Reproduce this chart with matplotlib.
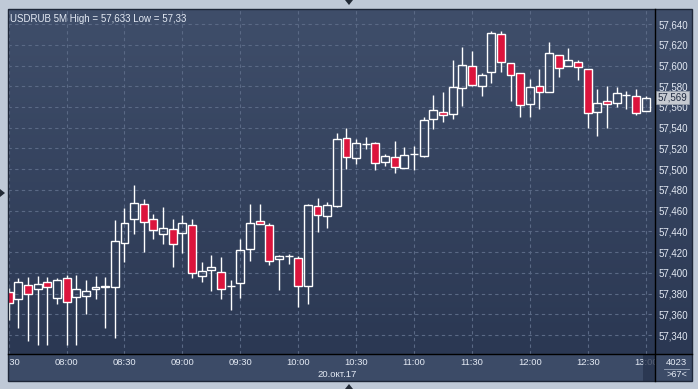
import matplotlib
matplotlib.use("Agg")
import matplotlib.pyplot as plt
import numpy as np
from matplotlib.colors import LinearSegmentedColormap
from matplotlib.lines import Line2D
from matplotlib.patches import Rectangle, Polygon

# USDRUB 5 minute candles, 20.10.2017, 07:30 .. 13:00 (67 bars)
opens = [57.3813, 57.3745, 57.3880, 57.3842, 57.3909, 57.3755, 57.3948, 57.3765, 57.3774, 57.3842,
         57.3861, 57.3867, 57.4285, 57.4517, 57.4661, 57.4517, 57.4372, 57.4420, 57.4382, 57.4459,
         57.3967, 57.4025, 57.4006, 57.3873, 57.3905, 57.4227, 57.4497, 57.4459, 57.4131, 57.4165,
         57.4141, 57.3876, 57.4642, 57.4546, 57.4642, 57.5298, 57.5105, 57.5239, 57.5250, 57.5066,
         57.5115, 57.5008, 57.5143, 57.5124, 57.5481, 57.5554, 57.5535, 57.5780, 57.5992, 57.5799,
         57.5934, 57.6301, 57.6021, 57.5925, 57.5626, 57.5799, 57.5747, 57.6098, 57.5992, 57.6031,
         57.5963, 57.5549, 57.5655, 57.5635, 57.5711, 57.5703, 57.5558]
highs = [57.3854, 57.3948, 57.3957, 57.3970, 57.3957, 57.3948, 57.3980, 57.3980, 57.3931, 57.3970,
         57.3957, 57.4507, 57.4626, 57.4847, 57.4712, 57.4565, 57.4632, 57.4520, 57.4558, 57.4520,
         57.4105, 57.4172, 57.4153, 57.3931, 57.4327, 57.4664, 57.4664, 57.4478, 57.4172, 57.4185,
         57.4160, 57.4661, 57.4719, 57.4684, 57.5349, 57.5397, 57.5288, 57.5310, 57.5259, 57.5144,
         57.5269, 57.5211, 57.5221, 57.5500, 57.5715, 57.5747, 57.6050, 57.6178, 57.6140, 57.5925,
         57.6330, 57.6330, 57.6021, 57.5925, 57.5867, 57.5963, 57.6226, 57.6098, 57.6166, 57.6050,
         57.5963, 57.5770, 57.5799, 57.5790, 57.5751, 57.5770, 57.5703]
lows = [57.3546, 57.3471, 57.3343, 57.3300, 57.3300, 57.3697, 57.3300, 57.3300, 57.3606, 57.3745,
        57.3471, 57.3375, 57.4108, 57.4378, 57.4204, 57.4330, 57.4276, 57.4060, 57.4195, 57.3953,
        57.3915, 57.3828, 57.3745, 57.3645, 57.3761, 57.4117, 57.4469, 57.4073, 57.3838, 57.4083,
        57.3674, 57.3703, 57.4397, 57.4436, 57.4632, 57.5005, 57.5047, 57.5192, 57.4995, 57.5028,
        57.4960, 57.5008, 57.4989, 57.5115, 57.5390, 57.5452, 57.5487, 57.5609, 57.5805, 57.5709,
        57.5828, 57.5937, 57.5660, 57.5506, 57.5506, 57.5583, 57.5747, 57.5892, 57.5992, 57.5857,
        57.5400, 57.5323, 57.5400, 57.5597, 57.5577, 57.5520, 57.5558]
closes = [57.3707, 57.3909, 57.3793, 57.3890, 57.3861, 57.3931, 57.3722, 57.3842, 57.3822, 57.3861,
          57.3874, 57.4305, 57.4478, 57.4671, 57.4488, 57.4411, 57.4430, 57.4276, 57.4478, 57.3996,
          57.4018, 57.4054, 57.3842, 57.3875, 57.4218, 57.4478, 57.4469, 57.4112, 57.4160, 57.4167,
          57.3871, 57.4652, 57.4555, 57.4652, 57.5288, 57.5115, 57.5250, 57.5241, 57.5057, 57.5124,
          57.5018, 57.5134, 57.5145, 57.5471, 57.5568, 57.5520, 57.5790, 57.6002, 57.5815, 57.5905,
          57.6310, 57.6031, 57.5905, 57.5616, 57.5790, 57.5741, 57.6117, 57.5973, 57.6050, 57.5982,
          57.5539, 57.5635, 57.5626, 57.5732, 57.5713, 57.5539, 57.5690]

time_labels = ["07:30", "08:00", "08:30", "09:00", "09:30", "10:00",
               "10:30", "11:00", "11:30", "12:00", "12:30", "13:00"]
time_label_bars = [0, 6, 12, 18, 24, 30, 36, 42, 48, 54, 60, 66]
date_label = "20.окт.17"
date_label_bar = 34
price_ticks = [57.34, 57.36, 57.38, 57.40, 57.42, 57.44, 57.46, 57.48, 57.50,
               57.52, 57.54, 57.56, 57.58, 57.60, 57.62, 57.64]
title = "USDRUB 5M High = 57,633 Low = 57,33"
last_price = 57.569
corner_top = "4023"
corner_bottom = ">67<"

W, H = 698, 389
OUTER = "#bfc9d7"
PANEL = "#3c4b67"
TEXT = "#e4eaf4"
RED = "#dc143c"


def px_rect(x0, y0, x1, y1):
    # pixel box (top-left origin) -> figure fraction rect
    return [x0 / W, 1 - y1 / H, (x1 - x0) / W, (y1 - y0) / H]


def px(x, y):
    return (x / W, 1 - y / H)


plt.rcParams["font.family"] = ["Liberation Sans", "DejaVu Sans"]

fig = plt.figure(figsize=(W / 100, H / 100), dpi=100, facecolor=OUTER)

# gradient background behind chart and price scale
bg = fig.add_axes(px_rect(8, 9, 692, 354))
cmap = LinearSegmentedColormap.from_list("bg", ["#2b3853", "#3f4e6a"])
bg.imshow(np.linspace(0, 1, 256).reshape(-1, 1), cmap=cmap, aspect="auto",
          origin="lower", extent=[0, 1, 0, 1])
bg.set_axis_off()

ax = fig.add_axes(px_rect(8, 9, 655, 354))
ax.set_facecolor("none")
x = np.arange(len(opens))
o = np.array(opens)
c = np.array(closes)
top = np.maximum(o, c)
bot = np.minimum(o, c)

# wicks above and below the body, so hollow bodies stay empty
ax.vlines(x, top, highs, color="white", lw=1.0, zorder=3)
ax.vlines(x, lows, bot, color="white", lw=1.0, zorder=3)
up = c >= o
ax.bar(x[up], (top - bot)[up], bottom=bot[up], width=0.82,
       facecolor="none", edgecolor="white", lw=1.0, zorder=4)
ax.bar(x[~up], (top - bot)[~up], bottom=bot[~up], width=0.82,
       facecolor=RED, edgecolor="white", lw=1.0, zorder=4)

ax.set_xlim(-0.07, 66.97)
ax.set_ylim(57.3218, 57.6545)
ax.set_xticks(time_label_bars)
ax.set_yticks(price_ticks)
ax.yaxis.set_major_formatter(lambda v, p: f"{v:.3f}".replace(".", ","))
ax.yaxis.tick_right()
ax.tick_params(axis="y", length=0, pad=2.2, labelsize=7, labelcolor=TEXT)
ax.tick_params(axis="x", length=0, labelbottom=False)
ax.grid(True, color="#5a6985", lw=0.8, linestyle=(0, (3, 3)))
for s in ax.spines.values():
    s.set_visible(False)

ax.text(0.003, 0.985, title, transform=ax.transAxes, ha="left", va="top",
        fontsize=7, color=TEXT)

# last price marker on the scale
ax.text(1.004, last_price, f"{last_price:.3f}".replace(".", ","),
        transform=ax.get_yaxis_transform(), ha="left", va="center",
        fontsize=7, color="#1f2a40", zorder=6,
        bbox=dict(boxstyle="square,pad=0.18", fc="#c6cad1", ec="#9aa2ae", lw=0.6))

# time scale panel
ax_t = fig.add_axes(px_rect(8, 354, 655, 381), sharex=ax)
ax_t.set_facecolor(PANEL)
ax_t.set_yticks([])
ax_t.tick_params(axis="x", length=0, labelbottom=False)
for s in ax_t.spines.values():
    s.set_visible(False)
for pos, lbl in zip(time_label_bars, time_labels):
    ax_t.text(pos, 0.68, lbl, transform=ax_t.get_xaxis_transform(), ha="center",
              va="center", fontsize=6.8, color=TEXT, clip_on=True)
ax_t.text(date_label_bar, 0.25, date_label, transform=ax_t.get_xaxis_transform(),
          ha="center", va="center", fontsize=6.8, color=TEXT, clip_on=True)
ax_t.add_patch(Rectangle((0.982, 0), 0.018, 1, transform=ax_t.transAxes,
                         fc="#26324b", alpha=0.75, zorder=5))

# corner cell
ax_c = fig.add_axes(px_rect(655, 354, 692, 381))
ax_c.set_facecolor(PANEL)
ax_c.set_xticks([])
ax_c.set_yticks([])
for s in ax_c.spines.values():
    s.set_visible(False)
ax_c.text(0.58, 0.7, corner_top, ha="center", va="center", fontsize=6.8,
          color=TEXT, transform=ax_c.transAxes)
ax_c.text(0.58, 0.25, corner_bottom, ha="center", va="center", fontsize=6.5,
          color=TEXT, transform=ax_c.transAxes)
ax_c.plot([0.25, 0.92], [0.45, 0.45], color="#9aa6ba", lw=0.6,
          transform=ax_c.transAxes)

# separators and frame
fig.add_artist(Line2D([px(655, 0)[0]] * 2, [px(0, 9)[1], px(0, 381)[1]],
                      color="black", lw=1.0))
fig.add_artist(Line2D([px(8, 0)[0], px(692, 0)[0]], [px(0, 354)[1]] * 2,
                      color="black", lw=1.0))
fig.add_artist(Rectangle(px(8, 381), 684 / W, 372 / H, fill=False,
                         ec="#1d2638", lw=1.0))

# small window arrows
fig.add_artist(Polygon([px(345, 0), px(353, 0), px(349, 5)], closed=True,
                       fc="#222a36", ec="none"))
fig.add_artist(Polygon([px(345, 389), px(353, 389), px(349, 384)], closed=True,
                       fc="#222a36", ec="none"))
fig.add_artist(Polygon([px(0, 189), px(0, 197), px(5, 193)], closed=True,
                       fc="#222a36", ec="none"))

fig.savefig("out.png", dpi=100, facecolor=OUTER)
